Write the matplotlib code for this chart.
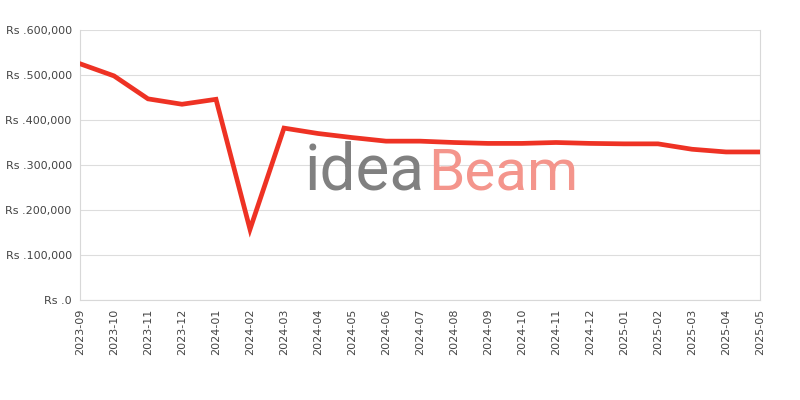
import numpy as np
import matplotlib.pyplot as plt
from matplotlib.ticker import FuncFormatter

# monthly prices
months = ['2023-09', '2023-10', '2023-11', '2023-12', '2024-01', '2024-02',
          '2024-03', '2024-04', '2024-05', '2024-06', '2024-07', '2024-08',
          '2024-09', '2024-10', '2024-11', '2024-12', '2025-01', '2025-02',
          '2025-03', '2025-04', '2025-05']
prices = [525000, 498000, 447000, 435000, 446000, 157000,
          382000, 370000, 361000, 353000, 353000, 350000,
          348000, 348000, 350000, 348000, 347000, 347000,
          335000, 329000, 329000]

fig = plt.figure(figsize=(8, 4), dpi=100)
ax = fig.add_axes([0.1, 0.25, 0.85, 0.675])

x = np.arange(len(months))
ax.plot(x, prices, color='#EE3224', lw=3.4, solid_joinstyle='miter', zorder=3)

ax.set_xlim(0, len(months) - 1)
ax.set_ylim(0, 600000)
ax.set_yticks(np.arange(0, 600001, 100000))
ax.yaxis.set_major_formatter(FuncFormatter(lambda v, p: 'Rs .{:,.0f}'.format(v)))
ax.set_xticks(x)
ax.set_xticklabels(months, rotation=90)
ax.tick_params(length=0, labelsize=8, labelcolor='#444444', pad=6)
ax.grid(axis='y', color='#dddddd', lw=0.8)
ax.set_axisbelow(True)
for s in ['left', 'bottom', 'right']:
    ax.spines[s].set_color('#d8d8d8')
ax.spines['top'].set_visible(False)

# watermark
fig.text(0.381, 0.525, 'idea', fontsize=46, color='#808080',
         fontfamily='Roboto', zorder=1)
fig.text(0.535, 0.525, 'Beam', fontsize=42, color='#F4958C',
         fontfamily='Roboto', zorder=1)

fig.savefig('out.png', dpi=100)
